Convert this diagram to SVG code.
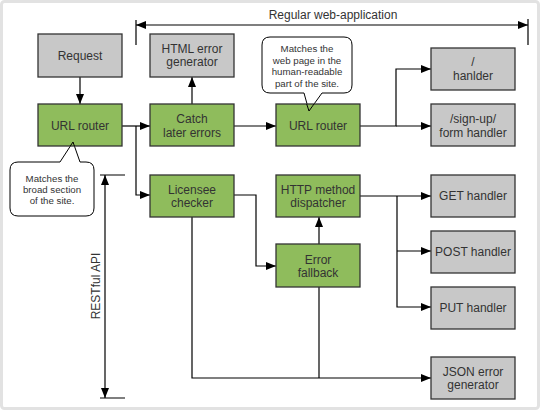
<svg xmlns="http://www.w3.org/2000/svg" width="540" height="410" viewBox="0 0 540 410">
<defs>
<marker id="ah" markerUnits="userSpaceOnUse" markerWidth="11" markerHeight="9" refX="10" refY="4" orient="auto-start-reverse" viewBox="0 0 11 9">
<path d="M0,0 L10,4 L0,8 z" fill="#000"/>
</marker>
<style>
.g{fill:#8fbc5c;stroke:#333;stroke-width:1.3}
.s{fill:#c8c8c8;stroke:#333;stroke-width:1.3}
.t{font-family:"Liberation Sans",Arial,sans-serif;font-size:12px;fill:#333;text-anchor:middle}
.c{font-family:"Liberation Sans",Arial,sans-serif;font-size:9.7px;fill:#333;text-anchor:middle}
.ln{fill:none;stroke:#000;stroke-width:1.2}
.ar{marker-end:url(#ah)}
.co{fill:#fff;stroke:#000;stroke-width:1}
.tip{fill:none;stroke:#000;stroke-width:1}
</style>
</defs>
<rect x="1.5" y="1.5" width="537" height="407" rx="3" fill="#fff" stroke="#e2e2e2" stroke-width="3"/>

<g id="dimensions">
<path class="ln" d="M136,25 H528" marker-start="url(#ah)" marker-end="url(#ah)"/>
<path class="ln" d="M136,20 V45 M528,19 V45"/>
<text class="t" x="333" y="19">Regular web-application</text>
<path class="ln" d="M105,175 V398" marker-start="url(#ah)" marker-end="url(#ah)"/>
<path class="ln" d="M100,175 H125 M100,398 H125"/>
<text class="t" transform="translate(100,286) rotate(-90)">RESTful API</text>
</g>

<g id="connectors">
<path class="ln ar" d="M80,77 V104"/>
<path class="ln ar" d="M122,126 H150"/>
<path class="ln ar" d="M136,126 V195 H150"/>
<path class="ln ar" d="M192,104 V77"/>
<path class="ln ar" d="M234,126 H276"/>
<path class="ln ar" d="M360,126 H396 V69 H431"/>
<path class="ln ar" d="M396,126 H431"/>
<path class="ln ar" d="M234,195 H256 V266 H276"/>
<path class="ln ar" d="M192,217 V378 H431"/>
<path class="ln" d="M319,287 V378"/>
<path class="ln ar" d="M319,244 V217"/>
<path class="ln ar" d="M360,196 H431"/>
<path class="ln ar" d="M397,196 V307 H431"/>
<path class="ln ar" d="M397,251 H431"/>
</g>

<g id="callout-left">
<path class="co" d="M18,162 H60 L73,142 L80,162 H86 Q94,162 94,170 V208 Q94,216 86,216 H18 Q10,216 10,208 V170 Q10,162 18,162 Z"/>
<text class="c" x="52" y="182">Matches the</text>
<text class="c" x="52" y="193">broad section</text>
<text class="c" x="52" y="204">of the site.</text>
</g>

<g id="callout-mid">
<path class="co" d="M270,37 H344 Q352,37 352,45 V85 Q352,93 344,93 H322 L309,111 L304,93 H270 Q262,93 262,85 V45 Q262,37 270,37 Z"/>
<text class="c" x="307" y="52">Matches the</text>
<text class="c" x="307" y="63.5">web page in the</text>
<text class="c" x="307" y="75">human-readable</text>
<text class="c" x="307" y="86.5">part of the site.</text>
</g>

<g id="request"><rect class="s" x="38" y="34" width="84" height="43"/><text class="t" x="80" y="60">Request</text></g>
<g id="url-router-1"><rect class="g" x="38" y="104" width="84" height="42"/><text class="t" x="80" y="130">URL router</text></g>
<g id="callout-left-tip"><path class="tip" d="M70.3,146 L73,142 L74.4,146"/></g>
<g id="html-error"><rect class="s" x="150" y="34" width="84" height="43"/><text class="t" x="192" y="53">HTML error</text><text class="t" x="192" y="66">generator</text></g>
<g id="catch"><rect class="g" x="150" y="104" width="84" height="42"/><text class="t" x="192" y="123">Catch</text><text class="t" x="192" y="137">later errors</text></g>
<g id="url-router-2"><rect class="g" x="276" y="104" width="84" height="42"/><text class="t" x="318" y="130">URL router</text></g>
<g id="callout-mid-tip"><path class="tip" d="M314,104 L309,111 L306.7,104"/></g>
<g id="hanlder"><rect class="s" x="431" y="48" width="84" height="42"/><text class="t" x="473" y="66">/</text><text class="t" x="473" y="80">hanlder</text></g>
<g id="signup"><rect class="s" x="431" y="104" width="84" height="42"/><text class="t" x="473" y="123">/sign-up/</text><text class="t" x="473" y="137">form handler</text></g>
<g id="licensee"><rect class="g" x="150" y="175" width="84" height="42"/><text class="t" x="192" y="194">Licensee</text><text class="t" x="192" y="207">checker</text></g>
<g id="http-dispatcher"><rect class="g" x="276" y="175" width="84" height="42"/><text class="t" x="318" y="194">HTTP method</text><text class="t" x="318" y="207">dispatcher</text></g>
<g id="error-fallback"><rect class="g" x="276" y="244" width="84" height="43"/><text class="t" x="318" y="264">Error</text><text class="t" x="318" y="277">fallback</text></g>
<g id="get"><rect class="s" x="431" y="175" width="84" height="42"/><text class="t" x="473" y="200">GET handler</text></g>
<g id="post"><rect class="s" x="431" y="231" width="84" height="42"/><text class="t" x="473" y="256">POST handler</text></g>
<g id="put"><rect class="s" x="431" y="287" width="84" height="42"/><text class="t" x="473" y="312">PUT handler</text></g>
<g id="json-error"><rect class="s" x="431" y="357" width="84" height="42"/><text class="t" x="473" y="376">JSON error</text><text class="t" x="473" y="389">generator</text></g>
</svg>
